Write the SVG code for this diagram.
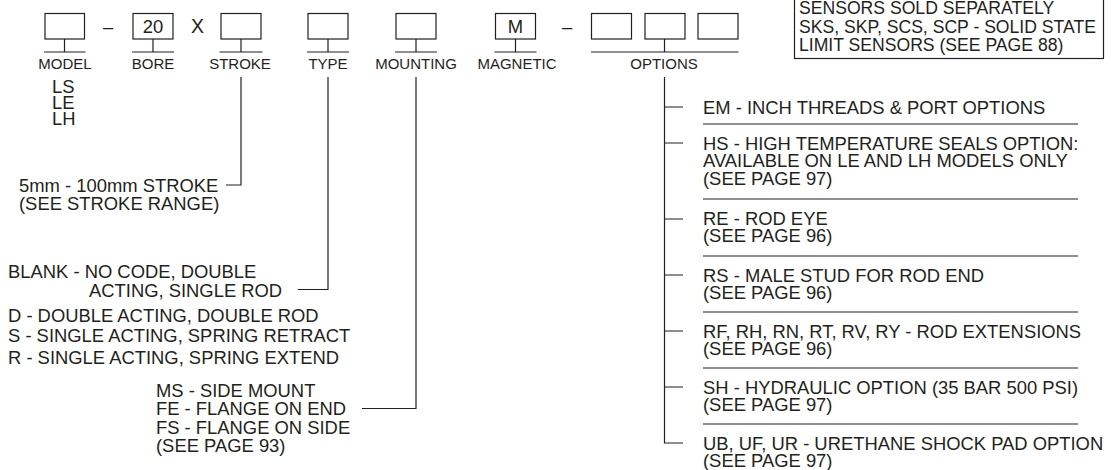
<svg xmlns="http://www.w3.org/2000/svg" width="1113" height="470" viewBox="0 0 1113 470">
<style>
text{font-family:"Liberation Sans",Arial,sans-serif;fill:#231f20;font-size:18.4px}
.lbl{font-size:15px;text-anchor:middle}
.mid{text-anchor:middle}
.box{fill:#fff;stroke:#231f20;stroke-width:1.2}
.ln{fill:none;stroke:#231f20;stroke-width:1.2}
.sb{font-size:17.6px}
</style>
<rect width="1113" height="470" fill="#fff"/>
<g id="model">
<rect class="box" x="45" y="13.5" width="39.5" height="25.5"/>
<path class="ln" d="M64.5 39V52M44 52H85.5"/>
<text class="lbl" x="65" y="69">MODEL</text>
<text x="52" y="93">LS</text>
<text x="52" y="109">LE</text>
<text x="52" y="125">LH</text>
</g>
<text x="103" y="33">–</text>
<g id="bore">
<rect class="box" x="133" y="13.5" width="40" height="25.5"/>
<text class="mid" x="153" y="33">20</text>
<path class="ln" d="M153 39V52M132 52H174"/>
<text class="lbl" x="153" y="69">BORE</text>
</g>
<text x="191" y="33" style="font-size:19.5px">X</text>
<g id="stroke">
<rect class="box" x="221" y="13.5" width="40" height="25.5"/>
<path class="ln" d="M241 39V52M219.5 52H262.5"/>
<text class="lbl" x="240" y="69">STROKE</text>
<text x="19" y="191.5">5mm - 100mm STROKE</text>
<text x="19" y="209.5">(SEE STROKE RANGE)</text>
</g>
<g id="type">
<rect class="box" x="308" y="13.5" width="40" height="25.5"/>
<path class="ln" d="M328 39V52M307 52H349"/>
<text class="lbl" x="328" y="69">TYPE</text>
<text x="8" y="277.5">BLANK - NO CODE, DOUBLE</text>
<text x="89" y="296.5">ACTING, SINGLE ROD</text>
<text x="8" y="321.5">D - DOUBLE ACTING, DOUBLE ROD</text>
<text x="8" y="342">S - SINGLE ACTING, SPRING RETRACT</text>
<text x="8" y="363.5">R - SINGLE ACTING, SPRING EXTEND</text>
</g>
<g id="mounting">
<rect class="box" x="396" y="13.5" width="40" height="25.5"/>
<path class="ln" d="M416 39V52M395 52H437"/>
<text class="lbl" x="416" y="69">MOUNTING</text>
<text x="156" y="396.5">MS - SIDE MOUNT</text>
<text x="156" y="415">FE - FLANGE ON END</text>
<text x="156" y="433.5">FS - FLANGE ON SIDE</text>
<text x="156" y="451.5">(SEE PAGE 93)</text>
</g>
<g id="magnetic">
<rect class="box" x="495.5" y="13.5" width="40" height="25.5"/>
<text class="mid" x="515.5" y="33">M</text>
<path class="ln" d="M515.5 39V52M494.5 52H536.5"/>
<text class="lbl" x="517" y="69">MAGNETIC</text>
</g>
<text x="562" y="33">–</text>
<g id="options">
<rect class="box" x="591.5" y="13.5" width="40" height="25.5"/>
<rect class="box" x="645" y="13.5" width="40" height="25.5"/>
<rect class="box" x="698" y="13.5" width="40" height="25.5"/>
<path class="ln" d="M664.5 39V52M591 52H738.5"/>
<text class="lbl" x="664" y="69">OPTIONS</text>
<text x="703" y="113.5">EM - INCH THREADS &amp; PORT OPTIONS</text>
<text x="703" y="149.5">HS - HIGH TEMPERATURE SEALS OPTION:</text>
<text x="703" y="167">AVAILABLE ON LE AND LH MODELS ONLY</text>
<text x="703" y="184.5">(SEE PAGE 97)</text>
<text x="703" y="224.5">RE - ROD EYE</text>
<text x="703" y="242">(SEE PAGE 96)</text>
<text x="703" y="281.5">RS - MALE STUD FOR ROD END</text>
<text x="703" y="299">(SEE PAGE 96)</text>
<text x="703" y="337.5">RF, RH, RN, RT, RV, RY - ROD EXTENSIONS</text>
<text x="703" y="355">(SEE PAGE 96)</text>
<text x="703" y="393.5">SH - HYDRAULIC OPTION (35 BAR 500 PSI)</text>
<text x="703" y="411">(SEE PAGE 97)</text>
<text x="703" y="449.5">UB, UF, UR - URETHANE SHOCK PAD OPTION</text>
<text x="703" y="467">(SEE PAGE 97)</text>
<path class="ln" d="M703 124H1078M703 199H1078M703 256H1078M703 312H1078M703 368H1078M703 424H1078"/>
</g>
<g id="sensors">
<rect class="box" x="794.5" y="-2" width="309" height="60.5"/>
<text class="sb" x="799" y="14">SENSORS SOLD SEPARATELY</text>
<text class="sb" x="799" y="32.5">SKS, SKP, SCS, SCP - SOLID STATE</text>
<text class="sb" x="799" y="51">LIMIT SENSORS (SEE PAGE 88)</text>
</g>
<g id="connectors">
<path class="ln" d="M241 77V185H226"/>
<path class="ln" d="M328 77V289.5H298"/>
<path class="ln" d="M416 77V408.5H362"/>
<path class="ln" d="M664.5 77V443H683M664.5 107H683M664.5 143H683M664.5 219H683M664.5 275H683M664.5 331H683M664.5 387H683"/>
</g>
</svg>
